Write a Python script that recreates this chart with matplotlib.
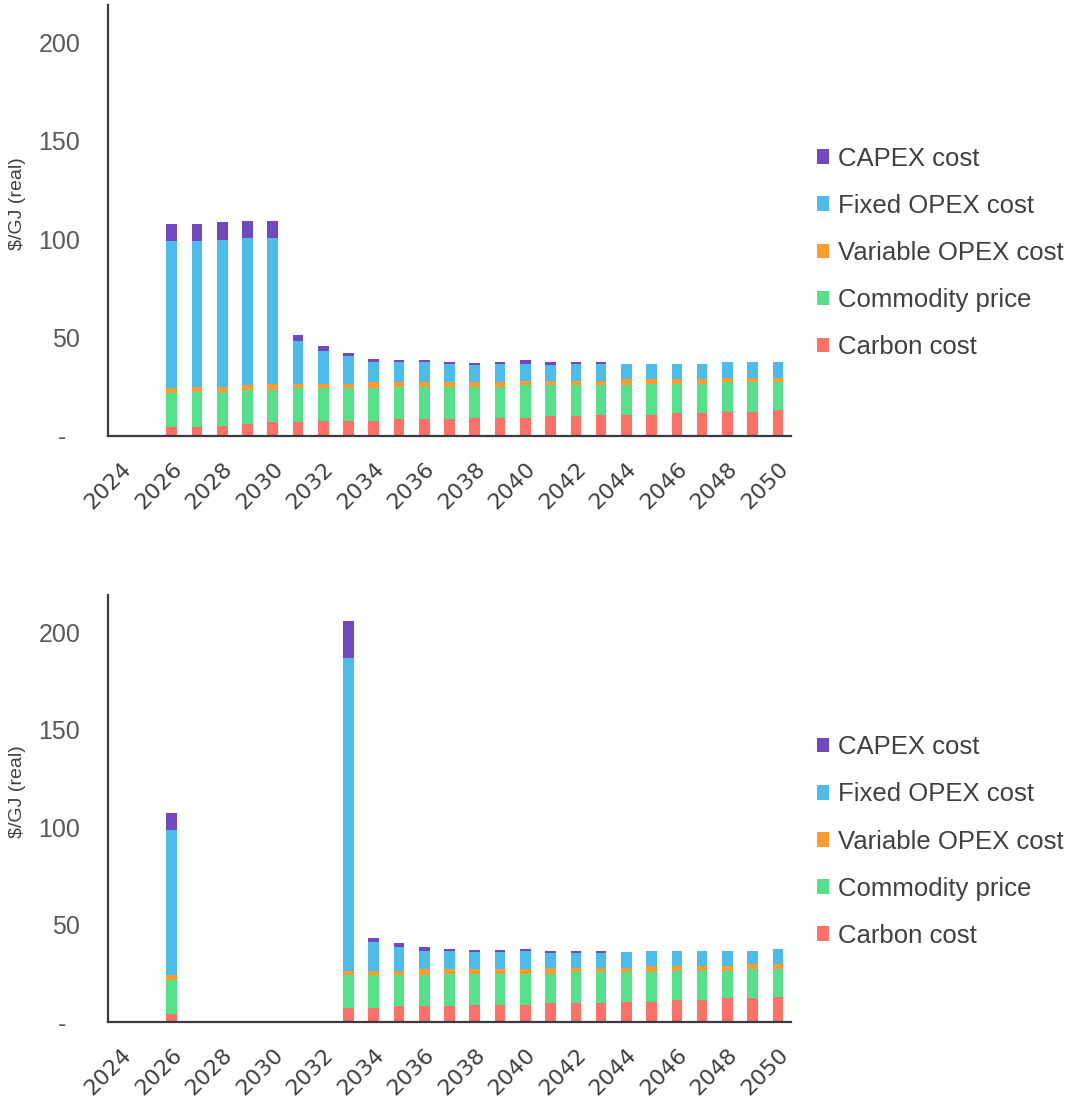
import numpy as np
import matplotlib
matplotlib.use("Agg")
import matplotlib.pyplot as plt
from matplotlib.patches import Patch

years = list(range(2024, 2051))
series_names = ["Carbon cost", "Commodity price", "Variable OPEX cost", "Fixed OPEX cost", "CAPEX cost"]
colors = ["#FF7066", "#55E08A", "#FF9A2E", "#4CBDE9", "#7048C0"]

# top panel (2024-2050), values in $/GJ
top_carbon = [0, 0, 4.6, 4.6, 5.2, 6.1, 7.0, 7.0, 7.6, 7.6, 7.6, 8.5, 8.5, 8.5, 9.3, 9.3,
              9.3, 10.0, 10.0, 10.8, 10.8, 10.8, 11.5, 11.5, 12.3, 12.3, 13.1]
top_commodity = [0, 0, 17.2, 17.9, 17.3, 17.3, 16.4, 17.2, 16.6, 16.6, 16.6, 16.5, 16.5, 16.5, 15.7, 15.7,
                 16.4, 15.7, 15.7, 14.9, 14.9, 15.8, 15.1, 15.1, 15.0, 15.0, 14.2]
top_var_opex = [0, 0, 2.6, 2.5, 2.5, 2.3, 3.2, 2.4, 2.4, 2.4, 3.3, 2.5, 2.5, 2.5, 2.5, 2.5,
                2.4, 2.4, 2.4, 2.4, 3.1, 2.2, 2.2, 2.2, 2.3, 2.3, 2.3]
top_fixed_opex = [0, 0, 74.6, 74.0, 74.8, 74.8, 73.9, 21.8, 16.4, 14.1, 10.0, 10.0, 10.0, 9.2, 8.5, 9.2,
                  8.6, 7.9, 8.6, 8.6, 7.9, 7.9, 7.9, 7.9, 8.0, 8.0, 8.0]
top_capex = [0, 0, 8.6, 8.6, 8.7, 8.9, 8.9, 2.7, 2.5, 1.6, 1.7, 0.9, 0.9, 0.8, 0.9, 0.8,
             1.7, 1.6, 0.9, 0.9, 0, 0, 0, 0, 0, 0, 0]

# bottom panel (2024-2050)
bot_carbon = [0, 0, 4.2, 0, 0, 0, 0, 0, 0, 7.5, 7.5, 8.2, 8.2, 8.2, 9.0, 9.0,
              9.0, 9.7, 9.7, 9.7, 10.5, 10.5, 11.4, 11.4, 12.3, 12.3, 12.9]
bot_commodity = [0, 0, 17.6, 0, 0, 0, 0, 0, 0, 16.5, 16.5, 15.8, 15.8, 16.7, 15.9, 15.9,
                 15.9, 15.2, 15.9, 15.9, 15.1, 15.1, 15.0, 15.0, 14.1, 14.8, 14.2]
bot_var_opex = [0, 0, 2.2, 0, 0, 0, 0, 0, 0, 2.4, 2.4, 2.4, 3.3, 2.4, 2.4, 2.4,
                2.4, 3.0, 2.3, 2.3, 2.3, 3.2, 2.4, 2.4, 2.4, 2.6, 2.6]
bot_fixed_opex = [0, 0, 74.7, 0, 0, 0, 0, 0, 0, 160.3, 15.0, 12.2, 9.3, 9.3, 8.7, 8.7,
                  9.3, 7.7, 7.7, 7.7, 8.1, 7.8, 7.8, 7.8, 7.8, 6.9, 7.8]
bot_capex = [0, 0, 8.5, 0, 0, 0, 0, 0, 0, 19.1, 1.7, 1.8, 1.8, 1.1, 0.8, 0.8,
             1.1, 1.0, 1.0, 1.0, 0, 0, 0, 0, 0, 0, 0]

y_ticks = [0, 50, 100, 150, 200]
y_tick_labels = ["-  ", "50", "100", "150", "200"]

plt.rcParams['font.family'] = ['Liberation Sans', 'DejaVu Sans']

fig = plt.figure(figsize=(10.73, 10.99), dpi=100)


def draw_panel(ax, data):
    x = np.arange(len(years))
    bottom = np.zeros(len(years))
    for vals, col in zip(data, colors):
        vals = np.array(vals)
        ax.bar(x, vals, width=0.42, bottom=bottom, color=col, linewidth=0)
        bottom += vals

    ax.set_xlim(-0.52, len(years) - 0.48)
    ax.set_ylim(0, 219)

    # only left and bottom spines, Excel style
    for side in ["top", "right"]:
        ax.spines[side].set_visible(False)
    for side in ["left", "bottom"]:
        ax.spines[side].set_color("#3a3a42")
        ax.spines[side].set_linewidth(1.6)

    ax.set_yticks(y_ticks)
    ax.set_yticklabels(y_tick_labels, fontsize=18, color="#595959")
    ax.tick_params(axis="y", length=0, pad=20)

    ax.set_xticks(x[::2])
    ax.set_xticklabels([str(y) for y in years[::2]], rotation=45, ha="right",
                       rotation_mode="anchor", fontsize=16, color="#404040",
                       family="DejaVu Sans")
    ax.tick_params(axis="x", length=0, pad=16)

    ax.set_ylabel("$/GJ (real)", fontsize=14, color="#404040")
    ax.yaxis.set_label_coords(-0.12, 0.54)

    # legend, CAPEX on top
    handles = [Patch(facecolor=c, edgecolor="none", label=n) for n, c in zip(series_names, colors)][::-1]
    return handles


legend_style = dict(loc="center left", frameon=False, fontsize=18.5, labelcolor="#404040",
                    handlelength=0.5, handleheight=0.5, handletextpad=0.35,
                    labelspacing=0.9, borderpad=0, borderaxespad=0)

ax1 = fig.add_axes([0.1007, 0.6033, 0.6365, 0.3922])
h = draw_panel(ax1, [top_carbon, top_commodity, top_var_opex, top_fixed_opex, top_capex])
fig.legend(handles=h, bbox_to_anchor=(0.761, 0.7698), **legend_style)

ax2 = fig.add_axes([0.1007, 0.0698, 0.6365, 0.3888])
h = draw_panel(ax2, [bot_carbon, bot_commodity, bot_var_opex, bot_fixed_opex, bot_capex])
fig.legend(handles=h, bbox_to_anchor=(0.761, 0.2343), **legend_style)

fig.savefig("out.png", dpi=100)
